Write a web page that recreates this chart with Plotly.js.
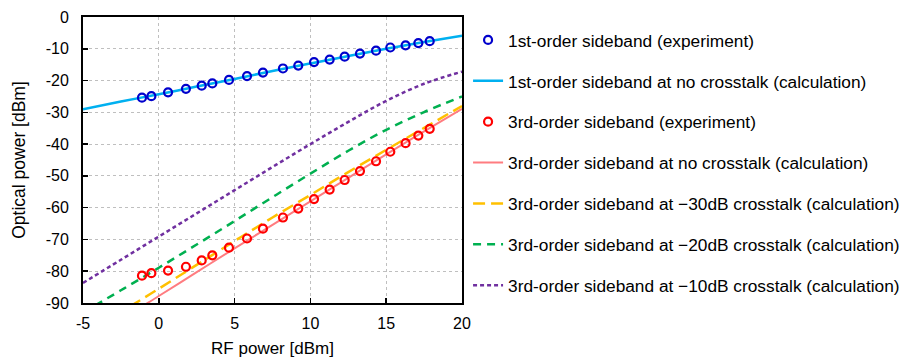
<!DOCTYPE html>
<html>
<head>
<meta charset="utf-8">
<script src="https://cdn.plot.ly/plotly-3.0.1.min.js"></script>
<style>html,body{margin:0;padding:0;background:#fff;}#chart{width:904px;height:358px;}</style>
</head>
<body>
<div id="chart"></div>
<script>
// Measured data (RF power, dBm)
const xExp = [-1.11,-0.49,0.61,1.79,2.83,3.53,4.63,5.82,6.87,8.19,9.20,10.24,11.27,12.26,13.27,14.33,15.27,16.28,17.12,17.87];
const firstExp = [-25.4,-24.9,-23.7,-22.6,-21.6,-20.9,-19.8,-18.6,-17.5,-16.2,-15.3,-14.2,-13.4,-12.5,-11.5,-10.6,-9.6,-8.9,-8.2,-7.6];
const thirdExp = [-81.4,-80.6,-79.8,-78.6,-76.6,-75.0,-72.6,-69.7,-66.6,-63.1,-60.3,-57.3,-54.3,-51.3,-48.5,-45.4,-42.4,-39.7,-37.3,-35.2];

// Calculated curves
const xCalc = [-5,-2.5,0,2.5,5,7.5,10,12.5,15,17.5,20];
const firstCalc = [-29.0,-26.6,-24.3,-21.9,-19.5,-17.0,-14.6,-12.3,-10.0,-7.9,-5.9];
const thirdNoXt = [-102.0,-95.2,-87.8,-80.3,-72.8,-65.4,-58.0,-50.6,-43.2,-36.0,-28.9];
const third30dB = [-99.5,-92.8,-85.5,-78.0,-70.5,-63.1,-56.0,-48.8,-41.8,-34.9,-28.0];
const third20dB = [-93.0,-86.0,-78.9,-71.6,-64.2,-56.7,-49.3,-42.1,-35.5,-29.9,-25.0];
const third10dB = [-83.7,-76.4,-69.1,-61.8,-54.5,-47.2,-40.0,-33.0,-26.4,-21.0,-17.2];

const names = [
  '1st-order sideband (experiment)',
  '1st-order sideband at no crosstalk (calculation)',
  '3rd-order sideband (experiment)',
  '3rd-order sideband at no crosstalk (calculation)',
  '3rd-order sideband at \u221230dB crosstalk (calculation)',
  '3rd-order sideband at \u221220dB crosstalk (calculation)',
  '3rd-order sideband at \u221210dB crosstalk (calculation)'
];

const xTickVals = [-5,0,5,10,15,20];
const xTickText = ['-5','0','5','10','15','20'];
const yTickVals = [0,-10,-20,-30,-40,-50,-60,-70,-80,-90];
const yTickText = ['0','-10','-20','-30','-40','-50','-60','-70','-80','-90'];

const FONT = '"Liberation Sans", Arial, sans-serif';

const traces = [
  {x: xCalc, y: firstCalc, name: names[1], mode: 'lines', line: {color: '#00B0F0', width: 2.5}, legendrank: 2},
  {x: xCalc, y: thirdNoXt, name: names[3], mode: 'lines', line: {color: '#FF7C80', width: 2}, legendrank: 4},
  {x: xCalc, y: third30dB, name: names[4], mode: 'lines', line: {color: '#FFC000', width: 2.5, dash: '12px,6px'}, legendrank: 5},
  {x: xCalc, y: third20dB, name: names[5], mode: 'lines', line: {color: '#00B050', width: 2.5, dash: '8px,6px'}, legendrank: 6},
  {x: xCalc, y: third10dB, name: names[6], mode: 'lines', line: {color: '#7030A0', width: 2.5, dash: '4px,3px'}, legendrank: 7},
  {x: xExp, y: firstExp, name: names[0], mode: 'markers', marker: {symbol: 'circle-open', size: 8, color: '#0000CC', line: {width: 2.2, color: '#0000CC'}}, legendrank: 1},
  {x: xExp, y: thirdExp, name: names[2], mode: 'markers', marker: {symbol: 'circle-open', size: 8, color: '#FF0000', line: {width: 2.2, color: '#FF0000'}}, legendrank: 3}
];
traces.forEach((t, i) => { t.line = t.line || {}; t.line.shape = 'spline'; t.legendgroup = 'g' + i; t.hoverinfo = 'skip'; });

const axisCommon = {
  showline: true, mirror: true, linecolor: '#000', linewidth: 2,
  ticks: 'inside', ticklen: 5, tickwidth: 1.5, tickcolor: '#000',
  showgrid: true, gridcolor: '#BFBFBF', gridwidth: 1, griddash: 'dot',
  zeroline: false, tickfont: {family: FONT, size: 16, color: '#000'}
};

const layout = {
  width: 904, height: 358,
  margin: {l: 83, r: 442, t: 17, b: 55, autoexpand: false},
  paper_bgcolor: '#fff', plot_bgcolor: '#fff',
  font: {family: FONT, color: '#000'},
  showlegend: true,
  xaxis: Object.assign({}, axisCommon, {
    range: [-5, 20], tickvals: xTickVals, ticktext: xTickText, ticklabelstandoff: 5,
    title: {text: 'RF power [dBm]', font: {family: FONT, size: 17}, standoff: 11}
  }),
  yaxis: Object.assign({}, axisCommon, {
    range: [-90, 0], tickvals: yTickVals, ticktext: yTickText, ticklabelstandoff: 9,
    title: {text: 'Optical power [dBm]', font: {family: FONT, size: 17.5}, standoff: 16}
  }),
  legend: {
    x: 1.016, xanchor: 'left', y: 0.982, yanchor: 'top',
    traceorder: 'grouped', tracegroupgap: 15.4,
    font: {family: FONT, size: 17.3, color: '#000'},
    bgcolor: 'rgba(0,0,0,0)', borderwidth: 0, itemsizing: 'trace'
  }
};

Plotly.newPlot('chart', traces, layout, {staticPlot: true, displayModeBar: false});
</script>
</body>
</html>
